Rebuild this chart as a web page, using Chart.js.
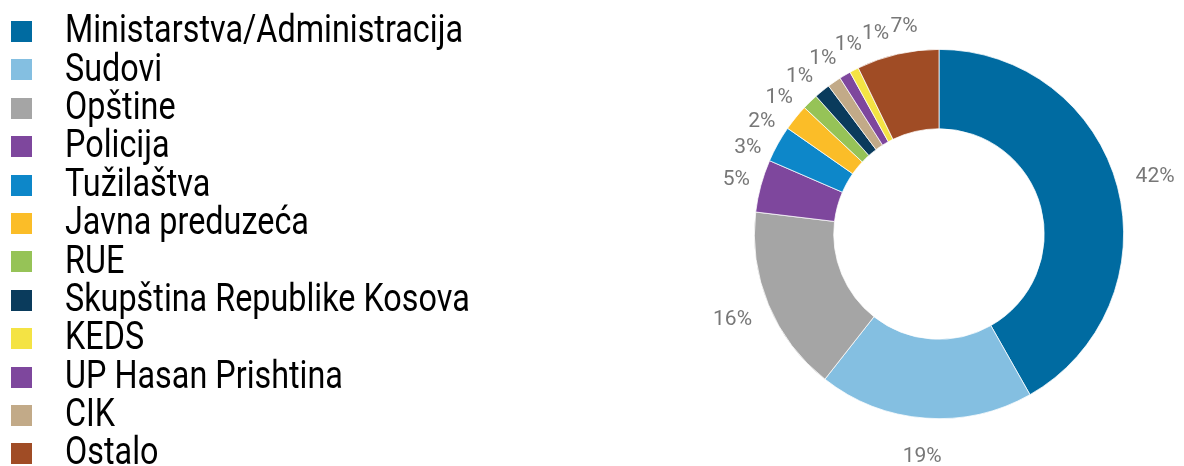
<!DOCTYPE html>
<html>
<head>
<meta charset="utf-8">
<script src="https://cdn.jsdelivr.net/npm/chart.js@4"></script>
<style>
    body { margin: 0; background: #fff; }
    #okvir { position: relative; width: 1184px; height: 466px; overflow: hidden; }
    #grafik { position: absolute; left: 0; top: 0; }
    #legenda {
        position: absolute; left: 0; top: 10.2px; margin: 0; padding: 0; list-style: none;
        font-family: Roboto, "Liberation Sans", sans-serif;
        font-size: 39px; line-height: 38.4px; color: #000;
    }
    #legenda li { position: relative; height: 38.4px; white-space: nowrap; }
    #legenda .kv { position: absolute; left: 11px; top: 10.8px; width: 21px; height: 21px; }
    #legenda .tx { position: absolute; left: 65px; top: 0; transform-origin: 0 0; }
</style>
</head>
<body>
<div id="okvir">
    <canvas id="grafik" width="1184" height="466"></canvas>
    <ul id="legenda"></ul>
</div>
<script>
const kategorije = ['Ministarstva/Administracija', 'Sudovi', 'Opštine', 'Policija', 'Tužilaštva', 'Javna preduzeća',
    'RUE', 'Skupština Republike Kosova', 'CIK', 'UP Hasan Prishtina', 'KEDS', 'Ostalo'];
const udeli = [41.8, 18.8, 16.3, 4.6, 3.2, 2.3, 1.4, 1.4, 1.2, 1.0, 0.8, 7.2];
const boje = ['#006ba1', '#84bfe1', '#a5a5a5', '#7e479d', '#0d87c9', '#fbbd28',
    '#96c357', '#0a3b5c', '#c2aa88', '#7e479d', '#f4e344', '#a04c25'];
// redosled u legendi nije isti kao u krugu
const redLegende = ['Ministarstva/Administracija', 'Sudovi', 'Opštine', 'Policija', 'Tužilaštva', 'Javna preduzeća',
    'RUE', 'Skupština Republike Kosova', 'KEDS', 'UP Hasan Prishtina', 'CIK', 'Ostalo'];

const RAZMAK = 8 * Math.PI / 180;

// razmakni uglove oznaka koje bi se preklapale, oko njihovog proseka
function rasporedi(uglovi, razmak) {
    const blokovi = [];
    uglovi.forEach((u, i) => {
        blokovi.push({ prvi: i, n: 1, zbir: u });
        while (blokovi.length > 1) {
            const b = blokovi[blokovi.length - 1];
            const a = blokovi[blokovi.length - 2];
            const krajA = a.zbir / a.n + (a.n - 1) * razmak;
            if (b.zbir / b.n - krajA >= razmak) break;
            a.zbir += b.zbir - b.n * a.n * razmak;
            a.n += b.n;
            blokovi.pop();
        }
    });
    const rez = [];
    blokovi.forEach(b => {
        for (let k = 0; k < b.n; k++) rez.push(b.zbir / b.n + k * razmak);
    });
    return rez;
}

const oznake = {
    id: 'oznake',
    afterDatasetsDraw(chart) {
        const ctx = chart.ctx;
        const lukovi = chart.getDatasetMeta(0).data.map(l =>
            l.getProps(['x', 'y', 'startAngle', 'endAngle', 'outerRadius'], true));
        const uglovi = rasporedi(lukovi.map(p => (p.startAngle + p.endAngle) / 2), RAZMAK);
        ctx.save();
        ctx.font = '21px Roboto, "Liberation Sans", sans-serif';
        ctx.fillStyle = '#777777';
        ctx.textAlign = 'center';
        ctx.textBaseline = 'middle';
        lukovi.forEach((p, i) => {
            const ugao = uglovi[i];
            const tekst = Math.round(udeli[i]) + '%';
            const w = ctx.measureText(tekst).width;
            const r = p.outerRadius - 6 + w * 1.15;
            ctx.fillText(tekst, p.x + r * Math.cos(ugao), p.y + r * Math.sin(ugao));
        });
        ctx.restore();
    }
};

function napraviLegendu() {
    const ul = document.getElementById('legenda');
    const tekstovi = [];
    redLegende.forEach(ime => {
        const i = kategorije.indexOf(ime);
        const li = document.createElement('li');
        const kv = document.createElement('span');
        kv.className = 'kv';
        kv.style.background = boje[i];
        const tx = document.createElement('span');
        tx.className = 'tx';
        tx.textContent = ime;
        li.appendChild(kv);
        li.appendChild(tx);
        ul.appendChild(li);
        tekstovi.push(tx);
    });
    // suzen font kao u originalu
    const sirina = tekstovi[0].getBoundingClientRect().width;
    const skala = 398 / sirina;
    tekstovi.forEach(t => { t.style.transform = 'scaleX(' + skala + ')'; });
}

const ctx = document.getElementById('grafik').getContext('2d');
new Chart(ctx, {
    type: 'doughnut',
    data: {
        labels: kategorije,
        datasets: [{
            data: udeli,
            backgroundColor: boje,
            borderColor: '#ffffff',
            borderWidth: 0.75
        }]
    },
    options: {
        responsive: false,
        animation: false,
        devicePixelRatio: 1,
        cutout: '57%',
        layout: { padding: { left: 754, right: 60, top: 49, bottom: 47 } },
        plugins: {
            legend: { display: false },
            tooltip: { enabled: false }
        }
    },
    plugins: [oznake]
});
napraviLegendu();
</script>
</body>
</html>
